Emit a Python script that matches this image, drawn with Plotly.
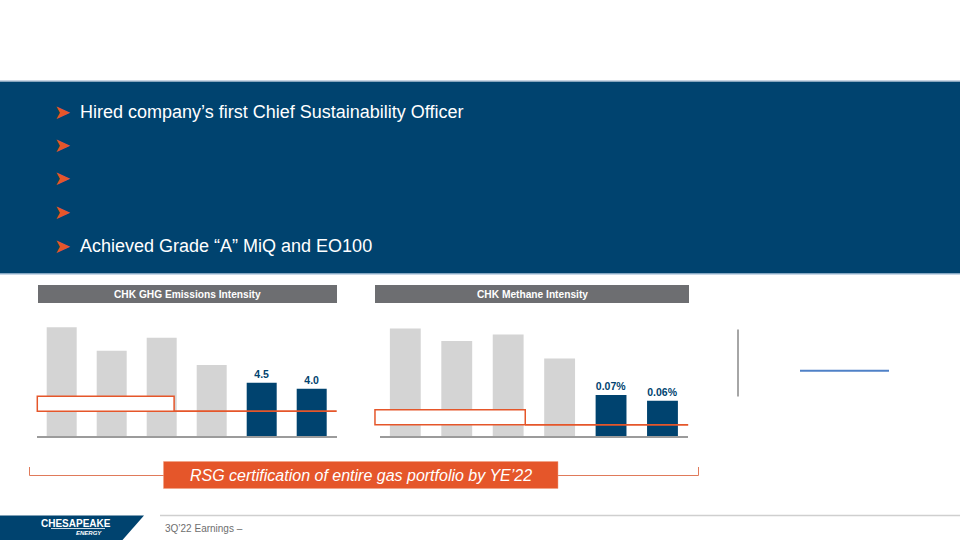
import plotly.graph_objects as go

W, H = 960, 540

# ---- data ----
categories = ["2017", "2018", "2019", "2020", "2021", "2022E"]
ghg_values = [9.2, 7.2, 8.3, 6.0, 4.5, 4.0]
ghg_target = 2.1
methane_values = [0.183, 0.162, 0.173, 0.132, 0.07, 0.06]
methane_target = 0.019
highlight = [False, False, False, False, True, True]

bullets = [
    "Hired company\u2019s first Chief Sustainability Officer",
    "",
    "",
    "",
    "Achieved Grade \u201cA\u201d MiQ and EO100",
]
ghg_title = "CHK GHG Emissions Intensity"
methane_title = "CHK Methane Intensity"
callout = "RSG certification of entire gas portfolio by YE\u201922"
footer = "3Q\u201922 Earnings \u2013"

NAVY = "#00436f"
ORANGE = "#e5562a"
GRAY_BAR = "#d4d4d4"
HEADER_GRAY = "#6d6e71"
FONT = "Arial, Liberation Sans, sans-serif"


def px(x):
    return x / W


def py(y):
    return 1 - y / H


ghg_colors = [NAVY if h else GRAY_BAR for h in highlight]
ghg_text = [f"<b>{v:.1f}</b>" if h else "" for v, h in zip(ghg_values, highlight)]
meth_text = [f"<b>{v:.2f}%</b>" if h else "" for v, h in zip(methane_values, highlight)]

fig = go.Figure()
fig.add_trace(go.Bar(
    x=categories, y=ghg_values, marker=dict(color=ghg_colors, line=dict(width=0)),
    text=ghg_text, textposition="outside", cliponaxis=False,
    textfont=dict(family=FONT, size=10.5, color=NAVY),
    xaxis="x", yaxis="y", hoverinfo="skip", showlegend=False,
))
fig.add_trace(go.Bar(
    x=categories, y=methane_values, marker=dict(color=ghg_colors, line=dict(width=0)),
    text=meth_text, textposition="outside", cliponaxis=False,
    textfont=dict(family=FONT, size=10.5, color=NAVY),
    xaxis="x2", yaxis="y2", hoverinfo="skip", showlegend=False,
))

ydom = [py(436), py(317.7)]
ydom2 = [py(436), py(318.6)]
axis_common = dict(showgrid=False, zeroline=False, showticklabels=False, ticks="",
                   fixedrange=True)

shapes = []
annotations = []

# banner
shapes.append(dict(type="rect", xref="paper", yref="paper", x0=0, x1=1,
                   y0=py(273.5), y1=py(81.5), fillcolor=NAVY, line=dict(width=0), layer="below"))
shapes.append(dict(type="line", xref="paper", yref="paper", x0=0, x1=1,
                   y0=py(81), y1=py(81), line=dict(color="#8fa9c4", width=1)))
shapes.append(dict(type="line", xref="paper", yref="paper", x0=0, x1=1,
                   y0=py(274), y1=py(274), line=dict(color="#8fb0d0", width=1)))

bullet_y = [111.5, 145, 178.5, 212, 245.5]
for t, yy in zip(bullets, bullet_y):
    annotations.append(dict(text="\u27a4", x=px(52), y=py(yy), xref="paper", yref="paper",
                            xanchor="left", yanchor="middle", showarrow=False,
                            font=dict(family="DejaVu Sans", size=20, color=ORANGE)))
    if t:
        annotations.append(dict(text=t, x=px(78), y=py(yy), xref="paper", yref="paper",
                                xanchor="left", yanchor="middle", showarrow=False,
                                font=dict(family=FONT, size=18, color="white")))

# chart headers
for (x0, x1, title) in [(38, 337, ghg_title), (375, 689, methane_title)]:
    shapes.append(dict(type="rect", xref="paper", yref="paper", x0=px(x0), x1=px(x1),
                       y0=py(303), y1=py(285), fillcolor=HEADER_GRAY, line=dict(width=0)))
    annotations.append(dict(text=f"<b>{title}</b>", x=px((x0 + x1) / 2), y=py(294),
                            xref="paper", yref="paper", xanchor="center", yanchor="middle",
                            showarrow=False, font=dict(family=FONT, size=10.2, color="white")))

# target boxes and lines
shapes.append(dict(type="rect", xref="x domain", yref="y", x0=0.002, x1=0.458,
                   y0=ghg_target, y1=ghg_target + 1.27, fillcolor="white",
                   line=dict(color=ORANGE, width=1.5)))
shapes.append(dict(type="line", xref="x domain", yref="y", x0=0.458, x1=1.0,
                   y0=ghg_target, y1=ghg_target, line=dict(color=ORANGE, width=1.8)))
shapes.append(dict(type="rect", xref="x2 domain", yref="y2", x0=-0.015, x1=0.472,
                   y0=methane_target, y1=methane_target + 0.0256, fillcolor="white",
                   line=dict(color=ORANGE, width=1.5)))
shapes.append(dict(type="line", xref="x2 domain", yref="y2", x0=0.472, x1=1.0,
                   y0=methane_target, y1=methane_target, line=dict(color=ORANGE, width=1.8)))

# right side decorations
shapes.append(dict(type="line", xref="paper", yref="paper", x0=px(738), x1=px(738),
                   y0=py(329.5), y1=py(396.5), line=dict(color="#a6a6a6", width=2)))
shapes.append(dict(type="line", xref="paper", yref="paper", x0=px(800), x1=px(889),
                   y0=py(370.8), y1=py(370.8), line=dict(color="#4f81c7", width=2)))

# bracket and callout
shapes.append(dict(type="path", xref="paper", yref="paper",
                   path=f"M{px(29.5)},{py(467)} L{px(29.5)},{py(475.5)} L{px(698.5)},{py(475.5)} L{px(698.5)},{py(467)}",
                   line=dict(color="#e07a5a", width=1)))
shapes.append(dict(type="rect", xref="paper", yref="paper", x0=px(163.5), x1=px(558),
                   y0=py(488.5), y1=py(461.5), fillcolor=ORANGE, line=dict(color="#f0a080", width=0.5)))
annotations.append(dict(text=f"<i>{callout}</i>", x=px(360.5), y=py(475.5), xref="paper", yref="paper",
                        xanchor="center", yanchor="middle", showarrow=False,
                        font=dict(family=FONT, size=16, color="white")))

# footer
shapes.append(dict(type="path", xref="paper", yref="paper",
                   path=f"M0,{py(515.5)} L{px(144)},{py(515.5)} L{px(122.5)},0 L0,0 Z",
                   fillcolor=NAVY, line=dict(width=0)))
shapes.append(dict(type="line", xref="paper", yref="paper", x0=px(160), x1=1,
                   y0=py(515.5), y1=py(515.5), line=dict(color="#cfcfcf", width=1.5)))
annotations.append(dict(text="<b>CHESAPEAKE</b>", x=px(38.5), y=py(523), xref="paper", yref="paper",
                        xanchor="left", yanchor="middle", showarrow=False,
                        font=dict(family=FONT, size=10, color="white")))
shapes.append(dict(type="line", xref="paper", yref="paper", x0=px(51), x1=px(105),
                   y0=py(528.5), y1=py(528.5), line=dict(color="white", width=0.8)))
annotations.append(dict(text="<b><i>ENERGY</i></b>", x=px(104), y=py(533), xref="paper", yref="paper",
                        xanchor="right", yanchor="middle", showarrow=False,
                        font=dict(family=FONT, size=6, color="white")))
annotations.append(dict(text=footer, x=px(163), y=py(528), xref="paper", yref="paper",
                        xanchor="left", yanchor="middle", showarrow=False,
                        font=dict(family=FONT, size=10, color="#6e6e6e")))

fig.update_layout(
    width=W, height=H, margin=dict(l=0, r=0, t=0, b=0),
    paper_bgcolor="white", plot_bgcolor="rgba(0,0,0,0)",
    bargap=0.4, showlegend=False,
    xaxis=dict(domain=[px(36.7), px(336.7)], anchor="y", showline=True,
               linecolor="#9b9b9b", linewidth=2, **axis_common),
    yaxis=dict(domain=ydom, range=[0, 10], anchor="x", showline=False, **axis_common),
    xaxis2=dict(domain=[px(379.6), px(688.2)], anchor="y2", showline=True,
                linecolor="#9b9b9b", linewidth=2, **axis_common),
    yaxis2=dict(domain=ydom2, range=[0, 0.2], anchor="x2", showline=False, **axis_common),
    shapes=shapes, annotations=annotations,
)

fig.write_html("out.html", config={"displayModeBar": False},
               post_script="document.body.style.margin='0';document.body.style.overflow='hidden';")
